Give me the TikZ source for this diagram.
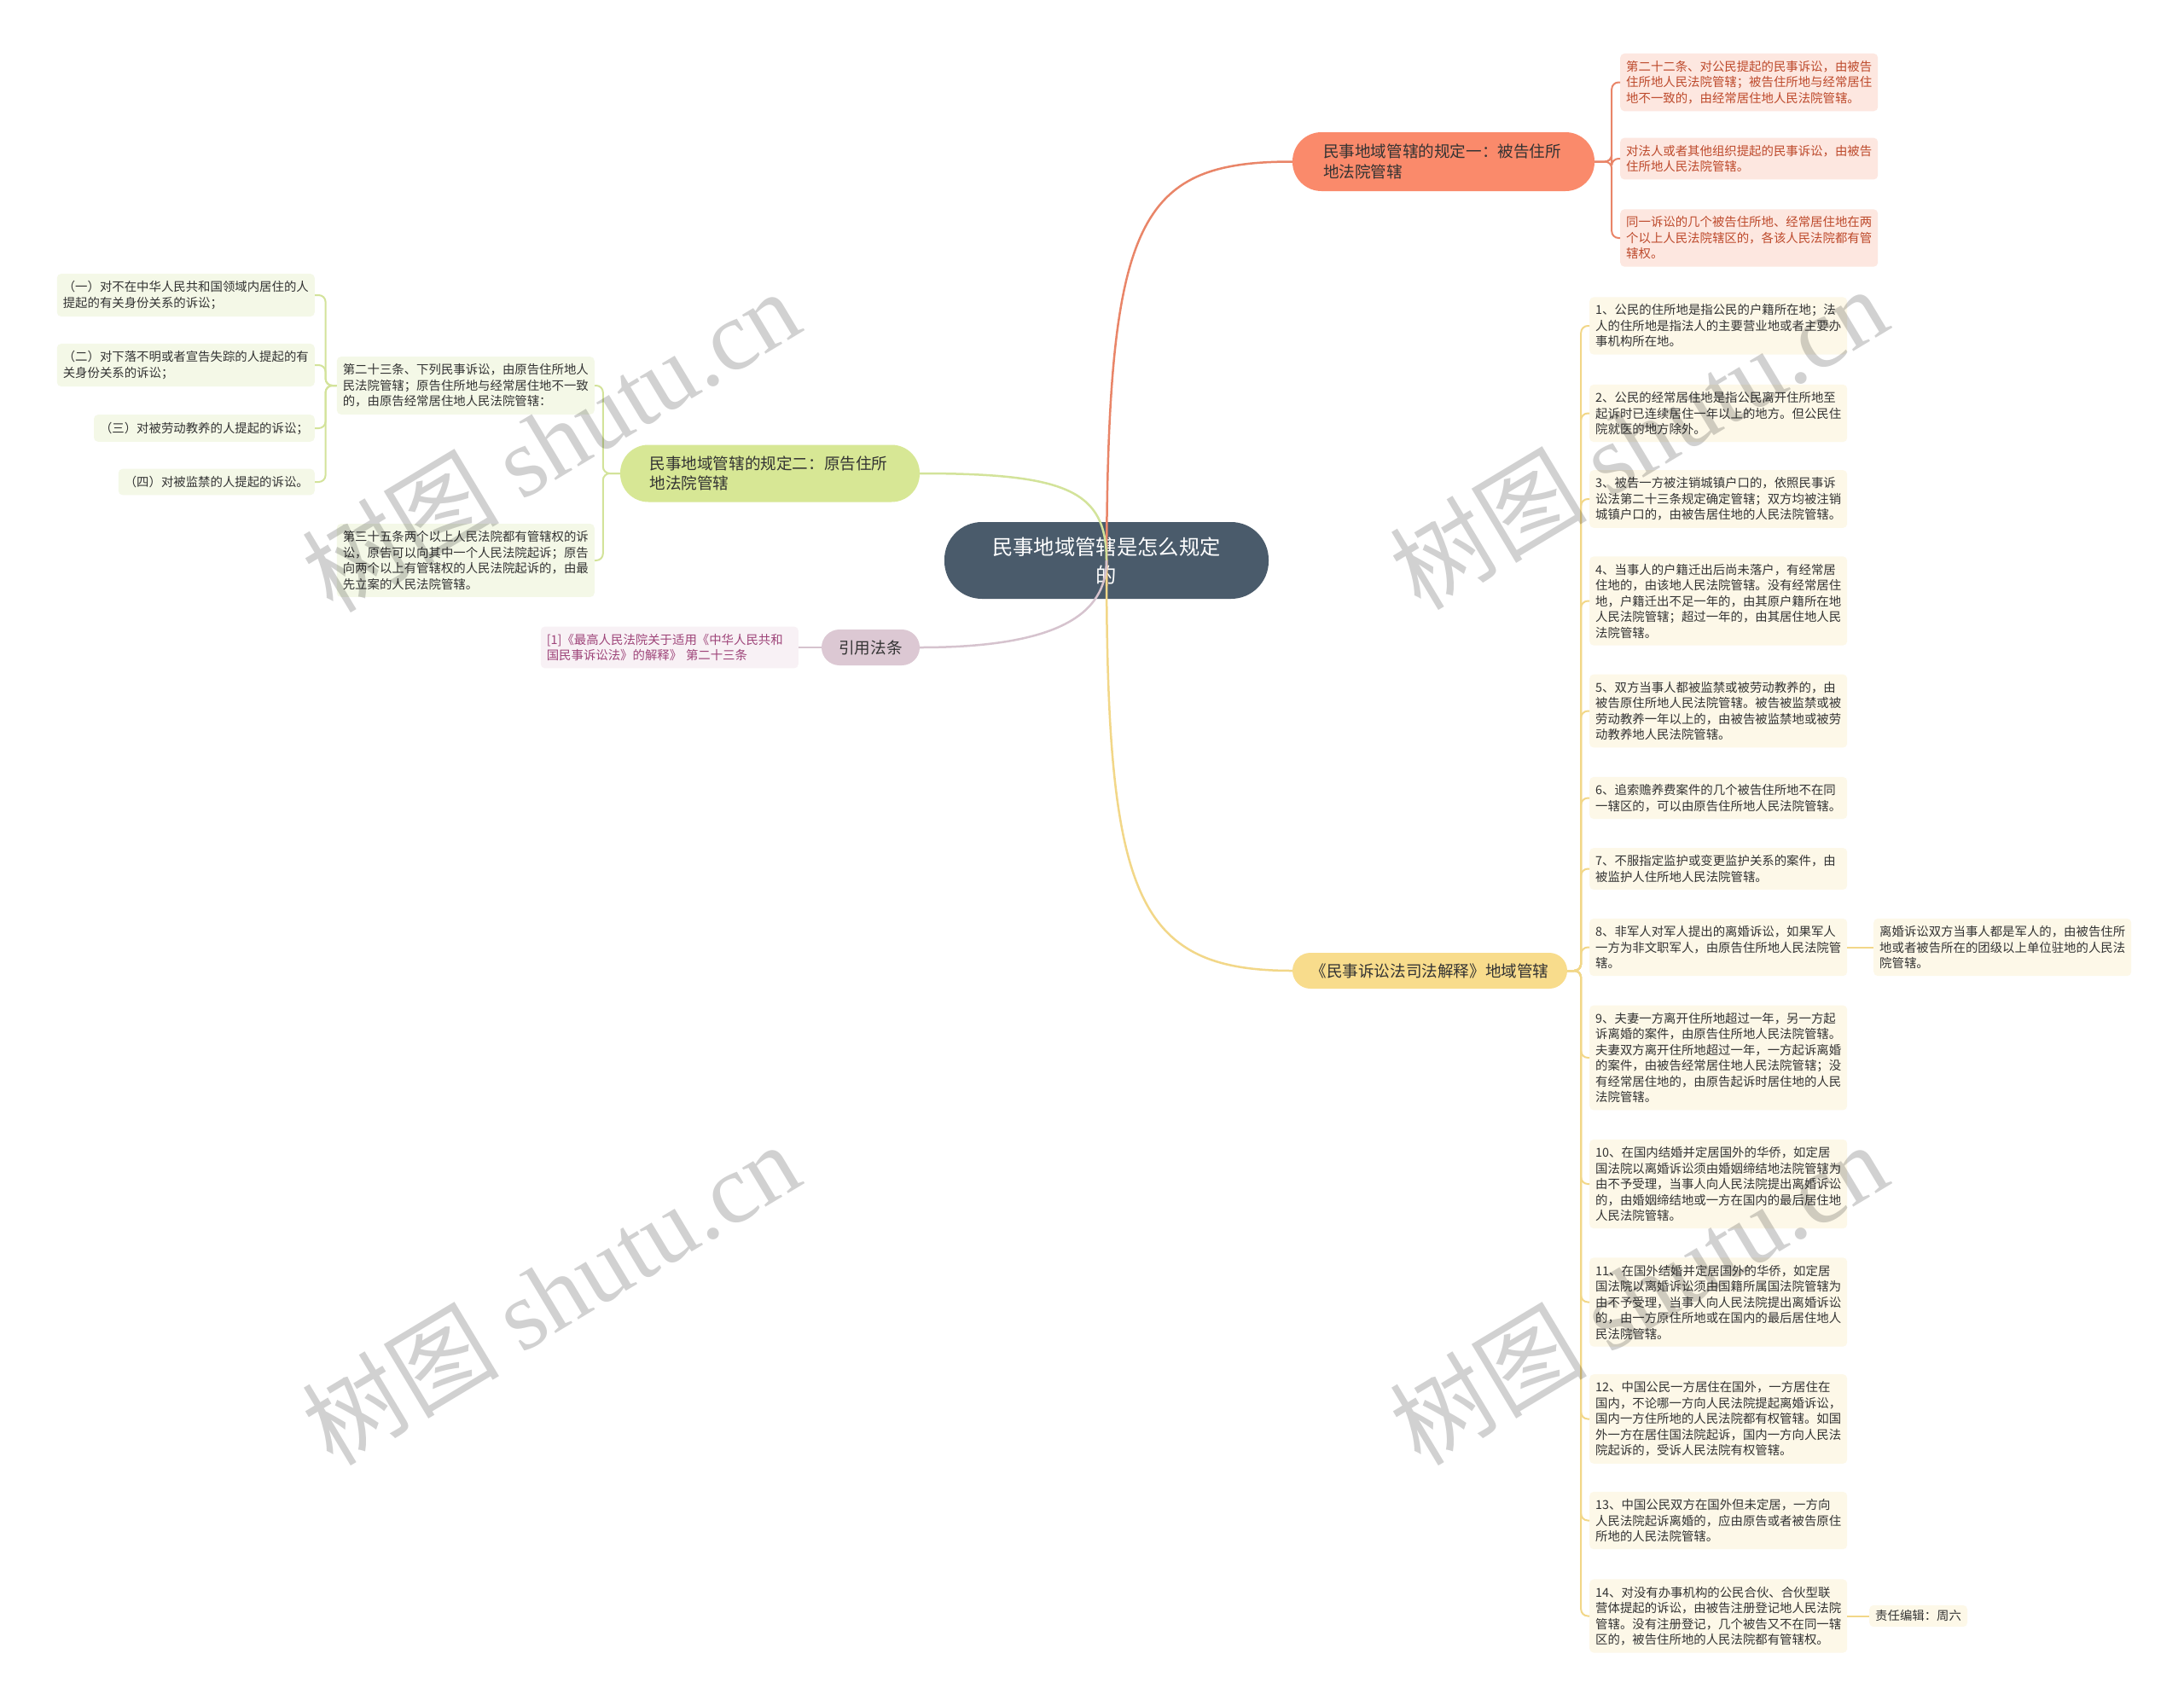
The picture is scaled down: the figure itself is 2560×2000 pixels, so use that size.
\documentclass[tikz,border=0pt]{standalone}
\usepackage{fontspec}
\setmainfont{Noto Sans CJK SC}
\newfontfamily\wmlatin{Liberation Serif}
\usetikzlibrary{calc}
\definecolor{cenc}{HTML}{4A5B6B}
\definecolor{rb}{HTML}{FA8A6B}
\definecolor{rl}{HTML}{E98568}
\definecolor{rleafc}{HTML}{FDE7E0}
\definecolor{rtext}{HTML}{BD4A2C}
\definecolor{gb}{HTML}{D7E795}
\definecolor{gl}{HTML}{D3E39A}
\definecolor{gleafc}{HTML}{F4F8E7}
\definecolor{pb}{HTML}{DCC8D3}
\definecolor{pl}{HTML}{D6C3CE}
\definecolor{pleafc}{HTML}{F8F1F5}
\definecolor{ptext}{HTML}{9E4479}
\definecolor{yb}{HTML}{F8DC8C}
\definecolor{yl}{HTML}{F2D788}
\definecolor{yleafc}{HTML}{FDF8E8}
\definecolor{txt}{HTML}{333333}
\begin{document}
\begin{tikzpicture}[x=1pt,y=-1pt,
 leaf/.style={rounded corners=5pt, inner xsep=7pt, inner ysep=8.5pt, font=\fontsize{14.4}{18.5}\selectfont, align=left, text=txt},
 wleaf/.style={leaf, text width=288pt},
 yleaf/.style={wleaf, fill=yleafc, anchor=west},
 rleaf/.style={wleaf, fill=rleafc, text=rtext, anchor=west},
 gleaf/.style={leaf, fill=gleafc, anchor=east},
 branch/.style={inner sep=0pt, font=\fontsize{18.6}{23.5}\selectfont, text=txt},
 link/.style={line width=2pt, rounded corners=8pt},
 mainlink/.style={line width=2.5pt},
 wm/.style={rotate=31, opacity=0.18, text=black, font=\fontsize{116}{116}\selectfont}
]
\useasboundingbox (0,0) rectangle (2560,2000);
\fill[white] (0,0) rectangle (2560,2000);

% center
\node[branch, fill=cenc, text=white, minimum width=380pt, minimum height=90pt, rounded corners=44pt, text width=300pt, align=center, font=\fontsize{24.3}{33}\selectfont] (cen) at (1297,657) {民事地域管辖是怎么规定\\的};

% branches
\node[branch, fill=rb, minimum width=354pt, minimum height=69pt, rounded corners=34pt, text width=282pt, align=left] (b1) at (1692,189.5) {民事地域管辖的规定一：被告住所\\地法院管辖};
\node[branch, fill=gb, minimum width=351pt, minimum height=67pt, rounded corners=33pt, text width=282pt, align=left] (b2) at (902.5,555) {民事地域管辖的规定二：原告住所\\地法院管辖};
\node[branch, fill=pb, minimum width=115pt, minimum height=42pt, rounded corners=21pt] (b3) at (1020.5,759) {引用法条};
\node[branch, fill=yb, minimum width=322pt, minimum height=42pt, rounded corners=21pt] (b4) at (1676,1138) {《民事诉讼法司法解释》地域管辖};

% red leaves
\node[rleaf] (r1) at (1899,96.5) {第二十二条、对公民提起的民事诉讼，由被告\\住所地人民法院管辖；被告住所地与经常居住\\地不一致的，由经常居住地人民法院管辖。};
\node[rleaf] (r2) at (1899,186) {对法人或者其他组织提起的民事诉讼，由被告\\住所地人民法院管辖。};
\node[rleaf] (r3) at (1899,279) {同一诉讼的几个被告住所地、经常居住地在两\\个以上人民法院辖区的，各该人民法院都有管\\辖权。};

% green leaves
\node[gleaf, text width=288pt] (g1) at (697,452) {第二十三条、下列民事诉讼，由原告住所地人\\民法院管辖；原告住所地与经常居住地不一致\\的，由原告经常居住地人民法院管辖：};
\node[gleaf, text width=288pt] (g2) at (697,657) {第三十五条两个以上人民法院都有管辖权的诉\\讼，原告可以向其中一个人民法院起诉；原告\\向两个以上有管辖权的人民法院起诉的，由最\\先立案的人民法院管辖。};
\node[gleaf, text width=288pt] (g11) at (369,346) {（一）对不在中华人民共和国领域内居住的人\\提起的有关身份关系的诉讼；};
\node[gleaf, text width=288pt] (g12) at (369,428) {（二）对下落不明或者宣告失踪的人提起的有\\关身份关系的诉讼；};
\node[gleaf] (g13) at (369,502) {（三）对被劳动教养的人提起的诉讼；};
\node[gleaf] (g14) at (369,565) {（四）对被监禁的人提起的诉讼。};

% pink leaf
\node[wleaf, fill=pleafc, text=ptext, anchor=east] (p1) at (936,759) {[1]《最高人民法院关于适用《中华人民共和\\国民事诉讼法》的解释》 第二十三条};

% yellow leaves
\node[yleaf] (y1) at (1863,382) {1、公民的住所地是指公民的户籍所在地；法\\人的住所地是指法人的主要营业地或者主要办\\事机构所在地。};
\node[yleaf] (y2) at (1863,484.5) {2、公民的经常居住地是指公民离开住所地至\\起诉时已连续居住一年以上的地方。但公民住\\院就医的地方除外。};
\node[yleaf] (y3) at (1863,585) {3、被告一方被注销城镇户口的，依照民事诉\\讼法第二十三条规定确定管辖；双方均被注销\\城镇户口的，由被告居住地的人民法院管辖。};
\node[yleaf] (y4) at (1863,704.5) {4、当事人的户籍迁出后尚未落户，有经常居\\住地的，由该地人民法院管辖。没有经常居住\\地，户籍迁出不足一年的，由其原户籍所在地\\人民法院管辖；超过一年的，由其居住地人民\\法院管辖。};
\node[yleaf] (y5) at (1863,833.5) {5、双方当事人都被监禁或被劳动教养的，由\\被告原住所地人民法院管辖。被告被监禁或被\\劳动教养一年以上的，由被告被监禁地或被劳\\动教养地人民法院管辖。};
\node[yleaf] (y6) at (1863,935.5) {6、追索赡养费案件的几个被告住所地不在同\\一辖区的，可以由原告住所地人民法院管辖。};
\node[yleaf] (y7) at (1863,1018.5) {7、不服指定监护或变更监护关系的案件，由\\被监护人住所地人民法院管辖。};
\node[yleaf] (y8) at (1863,1110.5) {8、非军人对军人提出的离婚诉讼，如果军人\\一方为非文职军人，由原告住所地人民法院管\\辖。};
\node[yleaf] (y9) at (1863,1240) {9、夫妻一方离开住所地超过一年，另一方起\\诉离婚的案件，由原告住所地人民法院管辖。\\夫妻双方离开住所地超过一年，一方起诉离婚\\的案件，由被告经常居住地人民法院管辖；没\\有经常居住地的，由原告起诉时居住地的人民\\法院管辖。};
\node[yleaf] (y10) at (1863,1388) {10、在国内结婚并定居国外的华侨，如定居\\国法院以离婚诉讼须由婚姻缔结地法院管辖为\\由不予受理，当事人向人民法院提出离婚诉讼\\的，由婚姻缔结地或一方在国内的最后居住地\\人民法院管辖。};
\node[yleaf] (y11) at (1863,1526.5) {11、在国外结婚并定居国外的华侨，如定居\\国法院以离婚诉讼须由国籍所属国法院管辖为\\由不予受理，当事人向人民法院提出离婚诉讼\\的，由一方原住所地或在国内的最后居住地人\\民法院管辖。};
\node[yleaf] (y12) at (1863,1663.5) {12、中国公民一方居住在国外，一方居住在\\国内，不论哪一方向人民法院提起离婚诉讼，\\国内一方住所地的人民法院都有权管辖。如国\\外一方在居住国法院起诉，国内一方向人民法\\院起诉的，受诉人民法院有权管辖。};
\node[yleaf] (y13) at (1863,1782.5) {13、中国公民双方在国外但未定居，一方向\\人民法院起诉离婚的，应由原告或者被告原住\\所地的人民法院管辖。};
\node[yleaf] (y14) at (1863,1894.5) {14、对没有办事机构的公民合伙、合伙型联\\营体提起的诉讼，由被告注册登记地人民法院\\管辖。没有注册登记，几个被告又不在同一辖\\区的，被告住所地的人民法院都有管辖权。};
\node[yleaf] (y8x) at (2196,1110.5) {离婚诉讼双方当事人都是军人的，由被告住所\\地或者被告所在的团级以上单位驻地的人民法\\院管辖。};
\node[leaf, fill=yleafc, anchor=west, inner ysep=6pt] (y14x) at (2191,1894.5) {责任编辑：周六};

% leaf links
\foreach \n in {r1,r2,r3} \draw[link, rl] (b1.east) -- ++(20,0) |- (\n.west);
\foreach \n in {y1,y2,y3,y4,y5,y6,y7,y8,y9,y10,y11,y12,y13,y14} \draw[link, yl] (b4.east) -- ++(16,0) |- (\n.west);
\foreach \n in {g1,g2} \draw[link, gl] (b2.west) -- ++(-20,0) |- (\n.east);
\foreach \n in {g11,g12,g13,g14} \draw[link, gl] (g1.west) -- ++(-13,0) |- (\n.east);
\draw[link, pl] (b3.west) -- (p1.east);
\draw[link, yl] (y8.east) -- (y8x.west);
\draw[link, yl] (y14.east) -- (y14x.west);

% main links (drawn over the centre)
\draw[mainlink, rl] ($(cen.center)+(0,30)$) .. controls (1297,260) and (1330,189.5) .. (b1.west);
\draw[mainlink, yl] (cen.center) .. controls (1297,1050) and (1330,1138) .. (b4.west);
\draw[mainlink, gl] (cen.center) .. controls (1297,575) and (1250,555) .. (b2.east);
\draw[mainlink, pl] (cen.center) .. controls (1297,720) and (1240,759) .. (b3.east);

% watermarks
\node[wm] (wm1) at (645,516) {树图 {\wmlatin shutu.cn}};
\node[wm] (wm2) at (1920,513) {树图 {\wmlatin shutu.cn}};
\node[wm] (wm3) at (645,1516) {树图 {\wmlatin shutu.cn}};
\node[wm] (wm4) at (1920,1516) {树图 {\wmlatin shutu.cn}};
\end{tikzpicture}
\end{document}
